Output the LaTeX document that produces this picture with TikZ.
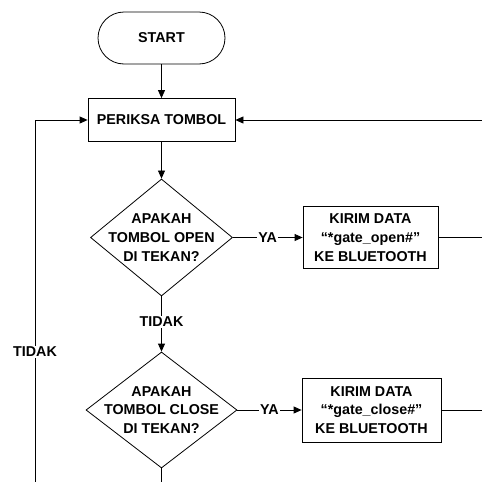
\documentclass[tikz,border=0pt]{standalone}
\usepackage{fontspec}
\setmainfont{Liberation Sans}
\usetikzlibrary{shapes.geometric,arrows.meta}
\begin{document}
\begin{tikzpicture}[x=1pt,y=-1pt,
  every node/.style={font=\bfseries\fontsize{14.3}{18.7}\selectfont, align=center},
  box/.style={draw, line width=0.8pt, inner sep=0pt},
  term/.style={box, rounded corners=26pt},
  decide/.style={draw, diamond, line width=0.8pt, inner sep=-30pt},
  line/.style={line width=0.8pt},
  arr/.style={line, -{Triangle[length=8pt,width=7pt]}},
  lbl/.style={fill=white, inner sep=1pt}
]
\useasboundingbox (0,0) rectangle (482,482);
\node[term, minimum width=127pt, minimum height=52pt] (start) at (161.5,38) {START};
\node[box, minimum width=147pt, minimum height=43pt] (cek) at (161.5,120) {PERIKSA TOMBOL};
\node[decide, minimum width=142pt, minimum height=117pt] (d1) at (161.5,237.5) {APAKAH\\TOMBOL OPEN\\DI TEKAN?};
\node[box, minimum width=135pt, minimum height=62pt] (k1) at (370.5,237.5) {KIRIM DATA\\“*gate\_open\#”\\KE BLUETOOTH};
\node[decide, minimum width=151pt, minimum height=116pt] (d2) at (161.5,410) {APAKAH\\TOMBOL CLOSE\\DI TEKAN?};
\node[box, minimum width=139pt, minimum height=64pt] (k2) at (371.5,410) {KIRIM DATA\\“*gate\_close\#”\\KE BLUETOOTH};
\coordinate (r0) at (482,120);
\coordinate (r1) at (482,237.5);
\coordinate (r2) at (482,410);
\coordinate (b2) at (161.5,482);
\coordinate (lb) at (35,482);
\coordinate (lt) at (35,120);
\draw[arr] (start) -- (cek);
\draw[arr] (cek) -- (d1);
\draw[arr] (d1.east) -- node[lbl] (ya1) {YA} (k1.west);
\draw[line] (k1.east) -- (r1);
\draw[arr] (d1.south) -- node[lbl, pos=0.46] (t1) {TIDAK} (d2.north);
\draw[arr] (d2.east) -- node[lbl] (ya2) {YA} (k2.west);
\draw[line] (k2.east) -- (r2);
\draw[line] (d2.south) -- (b2);
\draw[arr] (r0) -- (cek.east);
\draw[arr] (lb) -- node[lbl, pos=0.36] (t2) {TIDAK} (lt) -- (cek.west);
\end{tikzpicture}
\end{document}
